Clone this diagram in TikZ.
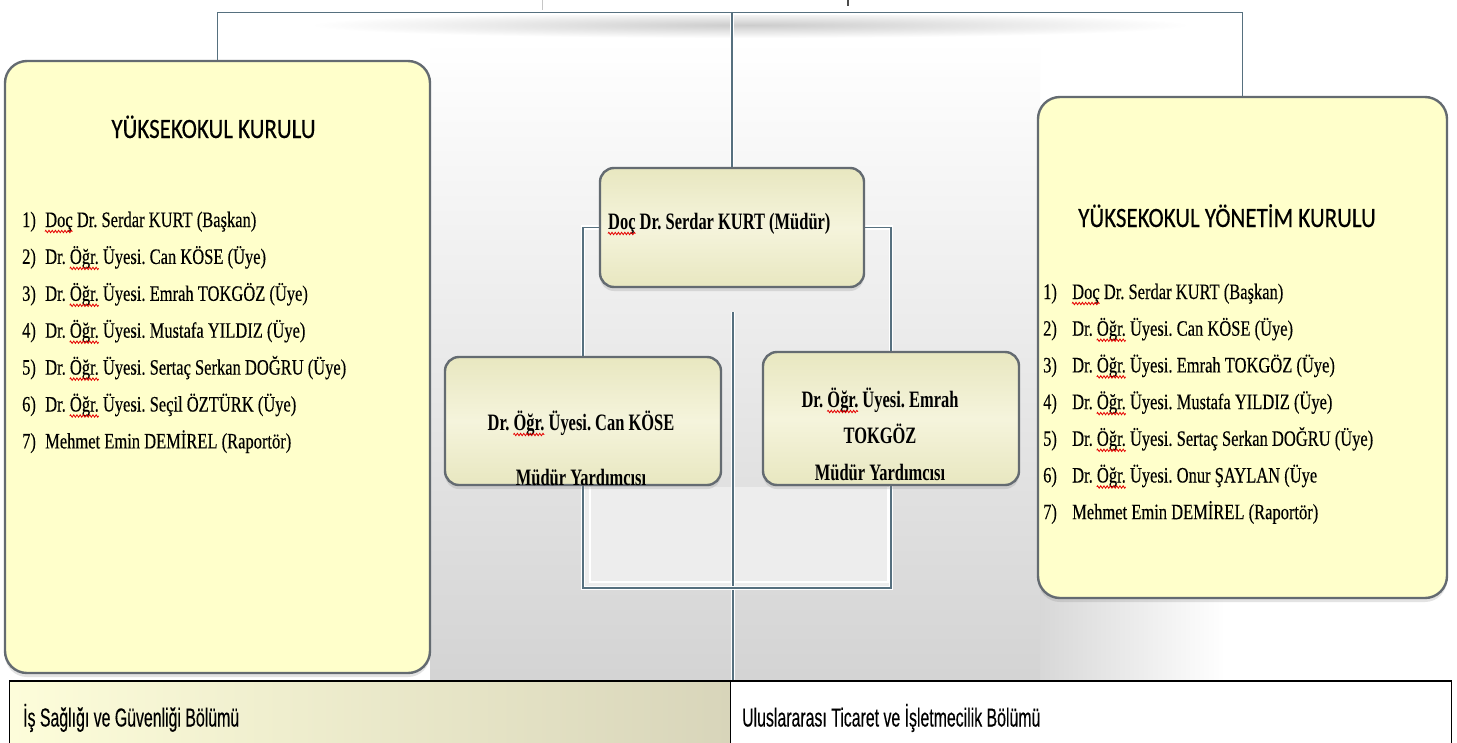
\documentclass[tikz,border=0pt]{standalone}
\usepackage{fontspec}
\usetikzlibrary{shadows,calc,decorations.pathmorphing}

\newfontfamily\listfont{Liberation Serif}[FakeStretch=0.75, FakeBold=0.3]
\newfontfamily\boxfont{Liberation Serif}[FakeStretch=0.70]
\newfontfamily\titlefont{Carlito}[FakeStretch=0.82, FakeBold=0.4]
\newfontfamily\tblfont{Liberation Sans}[FakeStretch=0.61, FakeBold=0.3]

\newcommand\listsize{\listfont\fontsize{22}{26}\selectfont}
\newcommand\boxsize{\boxfont\bfseries\fontsize{23.5}{28}\selectfont}

\definecolor{linkc}{HTML}{56707F}
\definecolor{boxedge}{HTML}{646B71}
\definecolor{paleyel}{HTML}{FFFFCB}
\definecolor{khaki}{HTML}{E8E7C0}
\definecolor{khakihi}{HTML}{F5F4DC}
\definecolor{cellA}{HTML}{FDFDDA}
\definecolor{cellB}{HTML}{F8F7C4}
\definecolor{cellC}{HTML}{D8D5BA}

\pgfdeclarelayer{bg}
\pgfdeclarelayer{lines}
\pgfsetlayers{bg,lines,main}

\tikzset{
  orglink/.style={draw=linkc, line width=1.8pt, preaction={draw=white, line width=4.5pt}},
  bigbox/.style={draw=boxedge, line width=2.4pt, rounded corners=22pt, fill=paleyel,
    inner sep=0pt, drop shadow={shadow xshift=0pt, shadow yshift=-4pt, opacity=.22, fill=gray}},
  midbox/.style={draw=boxedge, line width=2.4pt, rounded corners=14pt,
    top color=khaki, bottom color=khaki, middle color=khakihi, inner sep=0pt,
    drop shadow={shadow xshift=0pt, shadow yshift=-4pt, opacity=.22, fill=gray}},
  itemtxt/.style={font=\listsize, anchor=base west, inner sep=0pt},
  titletxt/.style={font=\titlefont\fontsize{28}{32}\selectfont, anchor=base, inner sep=0pt},
  boxtxt/.style={font=\boxsize, anchor=base, inner sep=0pt},
  cell/.style={draw=black, line width=1.4pt, anchor=north west, inner sep=0pt,
    minimum width=721pt, minimum height=80pt},
  tbltxt/.style={font=\tblfont\fontsize{26}{30}\selectfont, anchor=base west, inner sep=0pt},
  squig/.style={draw=red!90!black, line width=0.8pt, decorate,
    decoration={zigzag, segment length=3.2pt, amplitude=1.2pt}},
}

% widths of the words that carry a spelling mark
\newlength\drw \newlength\ogrw \newlength\docw
\newlength\bdrw \newlength\bogrw \newlength\bdocw

\begin{document}
\frenchspacing
\settowidth\drw{\listsize Dr.\ }
\settowidth\ogrw{\listsize Öğr.}
\settowidth\docw{\listsize Doç}
\settowidth\bdrw{\boxsize Dr.\ }
\settowidth\bogrw{\boxsize Öğr.}
\settowidth\bdocw{\boxsize Doç}
\begin{tikzpicture}[x=1pt,y=-1pt]
\useasboundingbox (0,0) rectangle (1457,742);

% ---------- boxes ----------
\node[bigbox, minimum width=425pt, minimum height=612pt] (lb) at (217.5,367) {};
\node[bigbox, minimum width=409pt, minimum height=501pt] (rb) at (1242.5,347.5) {};
\node[midbox, minimum width=264pt, minimum height=119pt] (md) at (732,227.5) {};
\node[midbox, minimum width=276pt, minimum height=128pt] (can) at (583,421) {};
\node[midbox, minimum width=256pt, minimum height=133pt] (em) at (891,418.5) {};

% ---------- backdrop ----------
\begin{pgfonlayer}{bg}
  \fill[white] (0,0) rectangle (1457,742);
  \shade[top color=white, bottom color=gray!34] (430,40) rectangle (1040,681);
  \shade[left color=gray!31, right color=white] (1040,590) rectangle (1225,681);
  \shade[inner color=gray!40, outer color=white] (750,25) ellipse [x radius=440, y radius=13];
  \fill[gray!14] (585,487) rectangle (893,587);
  \draw[white, line width=1.2pt] (590,487) -- (590,582) -- (888,582) -- (888,487);
  \draw[gray!45, line width=1pt] (542,0) -- (542,11);
  \draw[black!70, line width=1.2pt] (848,0) -- (848,6);
\end{pgfonlayer}

% ---------- table ----------
\node[cell, left color=cellA, middle color=cellB, right color=cellC] (celL) at (9,681) {};
\node[cell, fill=white] (celR) at (730,681) {};
\draw[line width=2.2pt] (celL.north west) -- (celR.north east);
\node[tbltxt] (tl) at (23,726.5) {İş Sağlığı ve Güvenliği Bölümü};
\node[tbltxt] (tr) at (742,726.5) {Uluslararası Ticaret ve İşletmecilik Bölümü};

% ---------- connectors ----------
\coordinate (bar) at (0,12.5);
\coordinate (mdtail) at (733,312);
\begin{pgfonlayer}{lines}
  \draw[orglink] (lb.north) |- (bar -| md.north) -| (rb.north);
  \draw[orglink] (md.north) -- (md.north |- bar);
  \draw[orglink] (md.west) -| (can.north);
  \draw[orglink] (md.east) -| (em.north);
  \draw[orglink] (mdtail) -- (mdtail |- celR.north west);
  \draw[orglink] (can.south) -- ++(0,102) -| (em.south);
\end{pgfonlayer}

% ---------- titles ----------
\node[titletxt] (lbt) at (213.5,138) {YÜKSEKOKUL KURULU};
\node[titletxt] (rbt) at (1227,227) {YÜKSEKOKUL YÖNETİM KURULU};

% ---------- member lists ----------
\foreach [count=\i] \txt in {
  {Doç Dr. Serdar KURT (Başkan)},
  {Dr. Öğr. Üyesi. Can KÖSE (Üye)},
  {Dr. Öğr. Üyesi. Emrah TOKGÖZ (Üye)},
  {Dr. Öğr. Üyesi. Mustafa YILDIZ (Üye)},
  {Dr. Öğr. Üyesi. Sertaç Serkan DOĞRU (Üye)},
  {Dr. Öğr. Üyesi. Seçil ÖZTÜRK (Üye)},
  {Mehmet Emin DEMİREL (Raportör)}}{
  \node[itemtxt] (ln\i) at (22,{227+36.9*(\i-1)}) {\i)};
  \node[itemtxt] (lt\i) at (45,{227+36.9*(\i-1)}) {\txt};
}
\foreach [count=\i] \txt in {
  {Doç Dr. Serdar KURT (Başkan)},
  {Dr. Öğr. Üyesi. Can KÖSE (Üye)},
  {Dr. Öğr. Üyesi. Emrah TOKGÖZ (Üye)},
  {Dr. Öğr. Üyesi. Mustafa YILDIZ (Üye)},
  {Dr. Öğr. Üyesi. Sertaç Serkan DOĞRU (Üye)},
  {Dr. Öğr. Üyesi. Onur ŞAYLAN (Üye},
  {Mehmet Emin DEMİREL (Raportör)}}{
  \node[itemtxt] (rn\i) at (1043,{299+36.7*(\i-1)}) {\i)};
  \node[itemtxt] (rt\i) at (1072,{299+36.7*(\i-1)}) {\txt};
}

% ---------- centre box texts ----------
\node[boxtxt, anchor=base west] (mdt) at (608,229) {Doç Dr. Serdar KURT (Müdür)};
\node[boxtxt] (cant1) at (581,430) {Dr. Öğr. Üyesi. Can KÖSE};
\node[boxtxt] (cant2) at (581,485) {Müdür Yardımcısı};
\node[boxtxt] (emt1) at (880,407) {Dr. Öğr. Üyesi. Emrah};
\node[boxtxt] (emt2) at (880,443) {TOKGÖZ};
\node[boxtxt] (emt3) at (880,480) {Müdür Yardımcısı};

% ---------- spelling marks ----------
\draw[squig] ($(lt1.base west)+(0pt,-4.5pt)$) -- ++(\docw,0pt);
\draw[squig] ($(rt1.base west)+(0pt,-4.5pt)$) -- ++(\docw,0pt);
\foreach \i in {2,...,6}{
  \draw[squig] ($(lt\i.base west)+(\drw,-4.5pt)$) -- ++(\ogrw,0pt);
  \draw[squig] ($(rt\i.base west)+(\drw,-4.5pt)$) -- ++(\ogrw,0pt);
}
\draw[squig] ($(mdt.base west)+(0pt,-4.5pt)$) -- ++(\bdocw,0pt);
\draw[squig] ($(cant1.base west)+(\bdrw,-4.5pt)$) -- ++(\bogrw,0pt);
\draw[squig] ($(emt1.base west)+(\bdrw,-4.5pt)$) -- ++(\bogrw,0pt);
\end{tikzpicture}
\end{document}
